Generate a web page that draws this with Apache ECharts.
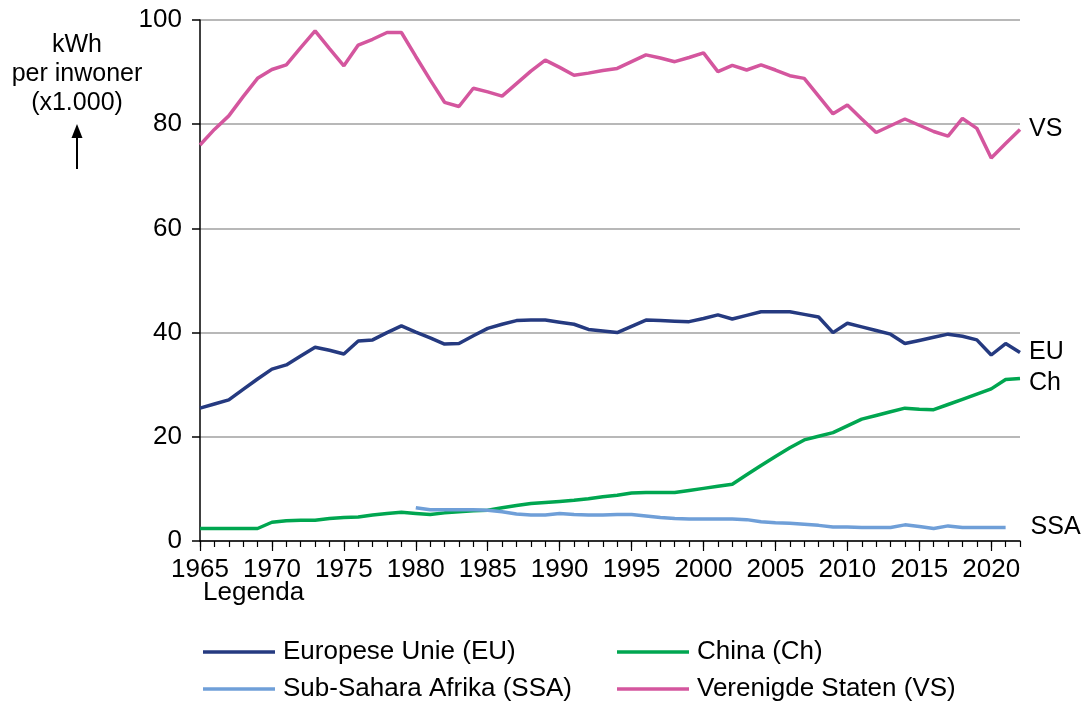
<!DOCTYPE html>
<html>
<head>
<meta charset="utf-8">
<script src="https://cdn.jsdelivr.net/npm/echarts@6/dist/echarts.min.js"></script>
<style>
html,body{margin:0;padding:0;background:#fff;}
#chart{width:1086px;height:702px;}
</style>
</head>
<body>
<div id="chart"></div>
<script>
var years = ['1965','1966','1967','1968','1969','1970','1971','1972','1973','1974',
  '1975','1976','1977','1978','1979','1980','1981','1982','1983','1984',
  '1985','1986','1987','1988','1989','1990','1991','1992','1993','1994',
  '1995','1996','1997','1998','1999','2000','2001','2002','2003','2004',
  '2005','2006','2007','2008','2009','2010','2011','2012','2013','2014',
  '2015','2016','2017','2018','2019','2020','2021','2022'];

var vsValues = [76.0,79.0,81.6,85.3,88.8,90.5,91.4,94.7,97.9,94.5,
  91.2,95.2,96.3,97.6,97.6,93.0,88.5,84.2,83.4,86.9,
  86.2,85.4,87.8,90.2,92.3,90.9,89.4,89.8,90.3,90.7,
  92.0,93.3,92.7,92.0,92.8,93.7,90.1,91.3,90.4,91.4,
  90.4,89.3,88.8,85.4,82.0,83.7,81.0,78.4,79.7,81.0,
  79.8,78.6,77.7,81.1,79.2,73.5,76.3,79.0];

var euValues = [25.5,26.3,27.1,29.1,31.1,33.0,33.8,35.5,37.2,36.6,
  35.9,38.4,38.6,40.0,41.3,40.1,39.0,37.8,37.9,39.4,
  40.8,41.6,42.3,42.4,42.4,42.0,41.6,40.6,40.3,40.0,
  41.2,42.4,42.3,42.2,42.1,42.7,43.4,42.6,43.3,44.0,
  44.0,44.0,43.5,43.0,40.0,41.8,41.1,40.4,39.7,37.9,
  38.5,39.1,39.7,39.3,38.6,35.7,37.9,36.2];

var chValues = [2.4,2.4,2.4,2.4,2.4,3.6,3.9,4.0,4.0,4.3,
  4.5,4.6,5.0,5.3,5.5,5.3,5.1,5.4,5.6,5.8,
  5.9,6.4,6.8,7.2,7.4,7.6,7.8,8.1,8.5,8.8,
  9.2,9.3,9.3,9.3,9.7,10.1,10.5,10.9,12.7,14.5,
  16.2,17.9,19.4,20.1,20.8,22.1,23.4,24.1,24.8,25.5,
  25.3,25.2,26.2,27.2,28.2,29.2,31.0,31.2];

var ssaValues = [null,null,null,null,null,null,null,null,null,null,
  null,null,null,null,null,6.4,6.0,6.0,6.0,6.0,
  5.9,5.6,5.2,5.0,5.0,5.3,5.1,5.0,5.0,5.1,
  5.1,4.8,4.5,4.3,4.2,4.2,4.2,4.2,4.1,3.7,
  3.5,3.4,3.2,3.0,2.7,2.7,2.6,2.6,2.6,3.1,
  2.8,2.4,2.9,2.6,2.6,2.6,2.6,null];

var yTicks = [0, 20, 40, 60, 80, 100];

var FONT = '"Liberation Sans", Arial, Helvetica, sans-serif';
var C_EU = '#253a80', C_CH = '#00a650', C_SSA = '#6f9fd8', C_VS = '#d4569e';

var chart = echarts.init(document.getElementById('chart'), null, {renderer: 'canvas'});

function mkSeries(name, data, color, label, lblDist, lblOffset) {
  return {
    name: name, type: 'line', data: data, xAxisIndex: 0,
    symbol: 'none', smooth: false, connectNulls: false,
    lineStyle: {color: color, width: 3.5},
    itemStyle: {color: color},
    endLabel: {
      show: true, formatter: label, distance: lblDist, offset: lblOffset,
      color: '#000', fontFamily: FONT, fontSize: 25
    },
    labelLayout: {hideOverlap: false},
    animation: false, z: 3
  };
}

function mkLegend(name, left, top) {
  return {
    orient: 'horizontal', left: left, top: top, padding: 0,
    itemWidth: 72, itemHeight: 3.5, icon: 'rect',
    data: [name],
    textStyle: {fontFamily: FONT, fontSize: 26, color: '#000', lineHeight: 30, padding: [0, 0, 0, 3]}
  };
}

var option = {
  animation: false,
  textStyle: {fontFamily: FONT},
  title: {
    text: 'Legenda', left: 203, top: 580, padding: 0,
    textStyle: {fontFamily: FONT, fontSize: 26, fontWeight: 'normal', color: '#000'}
  },
  grid: {left: 200, right: 66, top: 20, bottom: 161, containLabel: false},
  legend: [
    mkLegend('Europese Unie (EU)', 203, 637),
    mkLegend('Sub-Sahara Afrika (SSA)', 203, 674),
    mkLegend('China (Ch)', 617, 637),
    mkLegend('Verenigde Staten (VS)', 617, 674)
  ],
  xAxis: [
    {
      type: 'category', data: years, boundaryGap: false, position: 'bottom',
      axisLine: {show: true, lineStyle: {color: '#000', width: 1.5}},
      axisTick: {show: true, interval: 0, length: 6, lineStyle: {color: '#000', width: 1.2}},
      axisLabel: {interval: 4, margin: 16, color: '#000', fontFamily: FONT, fontSize: 26},
      splitLine: {show: false}
    },
    {
      type: 'category', data: years, boundaryGap: false, position: 'bottom',
      axisLine: {show: false},
      axisTick: {show: true, interval: 4, length: 10, lineStyle: {color: '#000', width: 1.2}},
      axisLabel: {show: false},
      splitLine: {show: false}
    }
  ],
  yAxis: {
    type: 'value', min: yTicks[0], max: yTicks[yTicks.length - 1], interval: 20,
    axisLine: {show: true, lineStyle: {color: '#000', width: 1.5}},
    axisTick: {show: true, length: 8, lineStyle: {color: '#000', width: 1.5}},
    axisLabel: {margin: 18, color: '#000', fontFamily: FONT, fontSize: 26},
    splitLine: {show: true, lineStyle: {color: '#a0a0a0', width: 1.5}}
  },
  series: [
    mkSeries('Europese Unie (EU)', euValues, C_EU, 'EU', 9, [0, 0]),
    mkSeries('China (Ch)', chValues, C_CH, 'Ch', 9, [0, 5]),
    mkSeries('Sub-Sahara Afrika (SSA)', ssaValues, C_SSA, 'SSA', 25, [0, 0]),
    mkSeries('Verenigde Staten (VS)', vsValues, C_VS, 'VS', 9, [0, 0])
  ],
  graphic: [
    {
      type: 'text', x: 77, y: 31,
      style: {
        text: 'kWh\nper inwoner\n(x1.000)',
        align: 'center', verticalAlign: 'top',
        fontFamily: FONT, fontSize: 25, fill: '#000', lineHeight: 29
      }
    },
    {
      type: 'line',
      shape: {x1: 77, y1: 169, x2: 77, y2: 134},
      style: {stroke: '#000', lineWidth: 2}
    },
    {
      type: 'polygon',
      shape: {points: [[77, 124], [71.5, 138], [82.5, 138]]},
      style: {fill: '#000'}
    }
  ]
};
chart.setOption(option);
</script>
</body>
</html>
